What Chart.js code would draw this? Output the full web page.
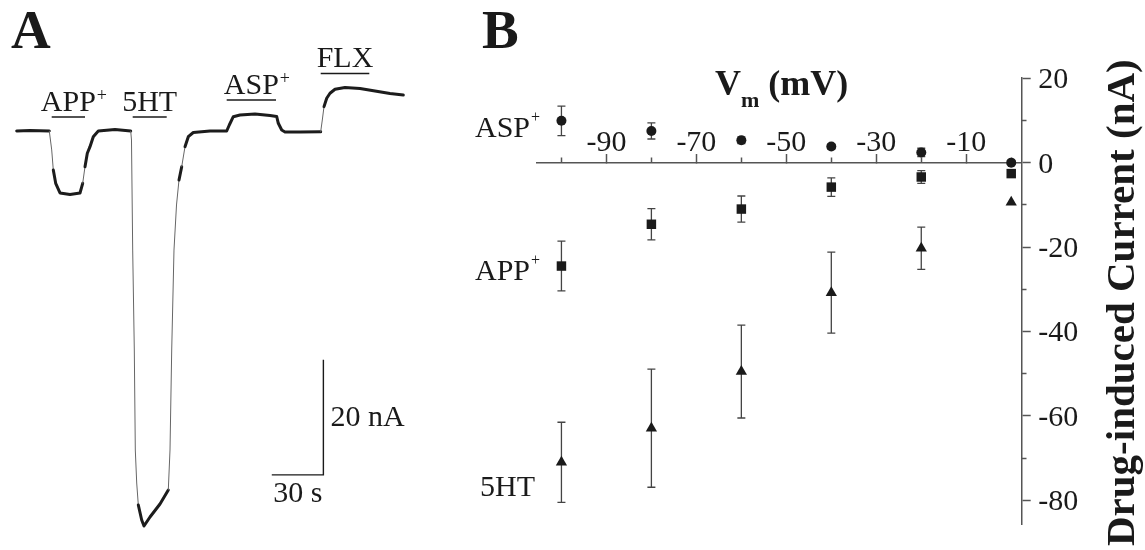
<!DOCTYPE html>
<html>
<head>
<meta charset="utf-8">
<script src="https://cdn.jsdelivr.net/npm/chart.js@4.4.1/dist/chart.umd.min.js"></script>
<style>
  body { margin: 0; background: #fff; }
  #wrap { position: relative; width: 1145px; height: 550px; overflow: hidden;
          font-family: 'Liberation Serif', 'Times New Roman', serif; color: #1a1a1a; }
  canvas { position: absolute; top: 0; }
  #chartA { left: 0; }
  #chartB { left: 440px; }
  .txt { position: absolute; white-space: nowrap; line-height: 1; }
  .panel { font-weight: bold; font-size: 55px; }
  .lbl { font-size: 30px; }
  .sup { font-size: 16px; position: relative; top: -15px; margin-left: 1px; }
  #ytitle { font-weight: bold; font-size: 41px; transform-origin: 0 0; transform: rotate(-90deg); }
</style>
</head>
<body>
<div id="wrap">
  <canvas id="chartA" width="440" height="550"></canvas>
  <canvas id="chartB" width="705" height="550"></canvas>
  <div class="txt panel" style="left:11px; top:2px">A</div>
  <div class="txt panel" style="left:482px; top:2px">B</div>
  <div class="txt" style="left:715px; top:65px; font-weight:bold; font-size:36px">V<span style="font-size:22px; position:relative; top:12px">m</span> (mV)</div>
  <div class="txt lbl" style="left:475px; top:112px">ASP<span class="sup">+</span></div>
  <div class="txt lbl" style="left:475px; top:255px">APP<span class="sup">+</span></div>
  <div class="txt lbl" style="left:480px; top:471px">5HT</div>
  <div class="txt" id="ytitle" style="left:1100px; top:546px">Drug-induced Current (nA)</div>
</div>
<script>
// panel A: recorded current trace (s, nA)
const traceTime = [0, 7.73, 18.95, 20.35, 21.28, 22.67, 25.17, 30.99, 36.8, 38.37,
  39.71, 41.05, 42.62, 44.53, 47.44, 57.15, 66.28, 66.74, 67.44, 68.37,
  68.95, 69.77, 70.7, 72.67, 74.01, 77.5, 83.31, 88.14, 89.13, 90.12,
  91.45, 92.91, 94.36, 95.93, 97.85, 99.77, 102.67, 112.38, 122.09, 123.6,
  125.93, 129.83, 138.55, 147.27, 151.16, 152.09, 154.07, 155.99, 164.71, 176.74,
  177.67, 178.66, 180.23, 182.15, 185.06, 190.87, 199.59, 208.31, 217.03, 224.77];
const traceCurrent = [0, 0.09, 0, -3.3, -6.78, -9.1, -10.78, -11.04, -10.78, -9.1,
  -6.21, -3.88, -2.73, -0.99, 0, 0.26, 0, -1.57, -20.7, -38.09,
  -55.48, -61.22, -65.04, -67.65, -68.7, -67.13, -64.87, -62.43, -55.48, -38.09,
  -20.7, -12.87, -8.52, -6.21, -2.73, -0.99, -0.26, 0, 0, 1.04,
  2.49, 2.78, 2.96, 2.7, 2.52, 1.34, 0.17, -0.17, -0.17, -0.12,
  1.91, 4.23, 5.69, 6.56, 7.25, 7.57, 7.39, 6.96, 6.52, 6.26];

const drugNames = ['APP', '5HT', 'ASP', 'FLX'];
const drugSup = ['+', '', '+', ''];
const drugStart = [20.35, 67.44, 122.09, 176.74];
const drugEnd = [39.71, 87.21, 150.76, 205.0];

const scaleSeconds = 30;
const scaleNanoamps = 20;

// panel B: I-V data
const voltages = [-100, -80, -60, -40, -20, 0];
const aspCurrent = [9.9, 7.5, 5.3, 3.8, 2.4, 0];
const aspError = [3.5, 1.9, 0.8, 0.6, 1.0, 0];
const appCurrent = [-24.5, -14.6, -11.0, -5.8, -3.4, -2.6];
const appError = [5.9, 3.7, 3.1, 2.2, 1.5, 0.5];
const htCurrent = [-71.0, -62.9, -49.5, -30.8, -20.3, -9.4];
const htError = [9.5, 14.0, 11.0, 9.6, 5.0, 0];

const vMajor = [-90, -70, -50, -30, -10];
const vMinor = [-100, -80, -60, -40, -20, 0];
const iMajor = [20, 0, -20, -40, -60, -80];
const iMinor = [10, -10, -30, -50, -70];

Chart.defaults.font.family = "'Liberation Serif', 'Times New Roman', serif";
Chart.defaults.color = '#1a1a1a';

const INK = '#1a1a1a';

// --- panel A ---
const steep = ctx => {
  const dx = Math.abs(ctx.p1.x - ctx.p0.x), dy = Math.abs(ctx.p1.y - ctx.p0.y);
  return dy / Math.max(dx, 0.1) > 6;
};

const drugBars = {
  id: 'drugBars',
  afterDatasetsDraw(chart) {
    const {ctx, scales: {x, y}} = chart;
    ctx.save();
    ctx.strokeStyle = INK;
    ctx.fillStyle = INK;
    ctx.lineWidth = 1.6;
    drugNames.forEach((name, i) => {
      const x0 = x.getPixelForValue(drugStart[i]);
      const x1 = x.getPixelForValue(drugEnd[i]);
      let top = Infinity;
      traceTime.forEach((t, k) => {
        if (t >= drugStart[i] - 5 && t <= drugEnd[i]) top = Math.min(top, y.getPixelForValue(traceCurrent[k]));
      });
      const barY = top - 14;
      ctx.beginPath();
      ctx.moveTo(x0, barY);
      ctx.lineTo(x1, barY);
      ctx.stroke();
      ctx.font = "30px 'Liberation Serif'";
      ctx.textBaseline = 'alphabetic';
      const w = ctx.measureText(name).width;
      const tx = (x0 + x1) / 2 - w / 2;
      ctx.fillText(name, tx, barY - 6);
      if (drugSup[i]) {
        ctx.font = "18px 'Liberation Serif'";
        ctx.fillText(drugSup[i], tx + w + 1, barY - 16);
      }
    });
    ctx.restore();
  }
};

const scaleBar = {
  id: 'scaleBar',
  afterDatasetsDraw(chart) {
    const {ctx, scales: {x, y}} = chart;
    const cornerT = 178.3, cornerI = -59.8;
    const cx = x.getPixelForValue(cornerT), cy = y.getPixelForValue(cornerI);
    const lx = x.getPixelForValue(cornerT - scaleSeconds);
    const ty = y.getPixelForValue(cornerI + scaleNanoamps);
    ctx.save();
    ctx.strokeStyle = INK;
    ctx.lineWidth = 1.4;
    ctx.beginPath();
    ctx.moveTo(lx, cy);
    ctx.lineTo(cx, cy);
    ctx.lineTo(cx, ty);
    ctx.stroke();
    ctx.fillStyle = INK;
    ctx.font = "30px 'Liberation Serif'";
    ctx.textBaseline = 'alphabetic';
    ctx.fillText(scaleSeconds + ' s', lx + 1.5, cy + 27);
    ctx.fillText(scaleNanoamps + ' nA', cx + 7, (cy + ty) / 2 + 9);
    ctx.restore();
  }
};

new Chart(document.getElementById('chartA'), {
  type: 'line',
  data: {
    datasets: [{
      data: traceTime.map((t, i) => ({x: t, y: traceCurrent[i]})),
      borderColor: '#1c1c1c',
      borderWidth: 3,
      borderJoinStyle: 'round',
      borderCapStyle: 'round',
      pointRadius: 0,
      tension: 0,
      segment: {
        borderWidth: ctx => steep(ctx) ? 1 : 3,
        borderColor: ctx => steep(ctx) ? '#666' : '#1c1c1c'
      }
    }]
  },
  options: {
    responsive: false,
    animation: false,
    events: [],
    layout: {padding: 0, autoPadding: false},
    plugins: {legend: {display: false}, tooltip: {enabled: false}},
    scales: {
      x: {type: 'linear', display: false, min: -9.71, max: 246.1},
      y: {type: 'linear', display: false, min: -72.87, max: 22.78}
    }
  },
  plugins: [drugBars, scaleBar]
});

// --- panel B ---
const errorBars = {
  id: 'errorBars',
  beforeDatasetsDraw(chart) {
    const {ctx, scales: {x, y}} = chart;
    ctx.save();
    ctx.strokeStyle = '#444';
    ctx.lineWidth = 1.3;
    chart.data.datasets.forEach(ds => {
      ds.data.forEach((p, i) => {
        const e = ds.errors[i];
        if (!e) return;
        const px = x.getPixelForValue(p.x);
        const top = y.getPixelForValue(p.y + e), bot = y.getPixelForValue(p.y - e);
        ctx.beginPath();
        ctx.moveTo(px, top); ctx.lineTo(px, bot);
        ctx.moveTo(px - 4, top); ctx.lineTo(px + 4, top);
        ctx.moveTo(px - 4, bot); ctx.lineTo(px + 4, bot);
        ctx.stroke();
      });
    });
    ctx.restore();
  }
};

const pts = vals => voltages.map((v, i) => ({x: v, y: vals[i]}));
const setTicks = vals => s => { s.ticks = vals.map(v => ({value: v})); };
const AXIS = '#555';
const tickFont = {family: "'Liberation Serif'", size: 30};
const xMin = -105.5, xMax = 2.33, yMin = -85.7, yMax = 20;

new Chart(document.getElementById('chartB'), {
  type: 'scatter',
  data: {
    datasets: [
      {label: 'ASP+', data: pts(aspCurrent), errors: aspError, pointStyle: 'circle', pointRadius: 5},
      {label: 'APP+', data: pts(appCurrent), errors: appError, pointStyle: 'rect', pointRadius: 6.7},
      {label: '5HT', data: pts(htCurrent), errors: htError, pointStyle: 'triangle', pointRadius: 6.5}
    ].map(d => Object.assign(d, {
      xAxisID: 'x', yAxisID: 'y',
      backgroundColor: INK, borderColor: INK, pointBorderWidth: 0, clip: false
    }))
  },
  options: {
    responsive: false,
    animation: false,
    events: [],
    layout: {padding: {left: 96.7, top: 78.2, right: 63.3, bottom: 0}, autoPadding: false},
    plugins: {legend: {display: false}, tooltip: {enabled: false}},
    scales: {
      x: {
        type: 'linear', axis: 'x', min: xMin, max: xMax, position: {y: 0},
        afterBuildTicks: setTicks(vMajor),
        grid: {drawOnChartArea: false, tickLength: -9.5, tickWidth: 1.5, tickColor: AXIS},
        border: {display: true, color: AXIS, width: 1.5},
        ticks: {padding: -28.5, font: tickFont, color: INK, maxRotation: 0, autoSkip: false}
      },
      x2: {
        type: 'linear', axis: 'x', min: xMin, max: xMax, position: {y: 0},
        afterBuildTicks: setTicks(vMinor),
        grid: {drawOnChartArea: false, tickLength: -5.5, tickWidth: 1.5, tickColor: AXIS},
        border: {display: false},
        ticks: {display: false}
      },
      y: {
        type: 'linear', axis: 'y', min: yMin, max: yMax, position: 'right',
        afterBuildTicks: setTicks(iMajor),
        afterFit: s => { s.width = 60; },
        grid: {drawOnChartArea: false, tickLength: 9, tickWidth: 1.5, tickColor: AXIS},
        border: {display: true, color: AXIS, width: 1.5},
        ticks: {padding: 7.6, labelOffset: 2, font: tickFont, color: INK, autoSkip: false}
      },
      y2: {
        type: 'linear', axis: 'y', min: yMin, max: yMax, position: {x: xMax},
        afterBuildTicks: setTicks(iMinor),
        grid: {drawOnChartArea: false, tickLength: -4.5, tickWidth: 1.5, tickColor: AXIS},
        border: {display: false},
        ticks: {display: false}
      }
    }
  },
  plugins: [errorBars]
});
</script>
</body>
</html>
